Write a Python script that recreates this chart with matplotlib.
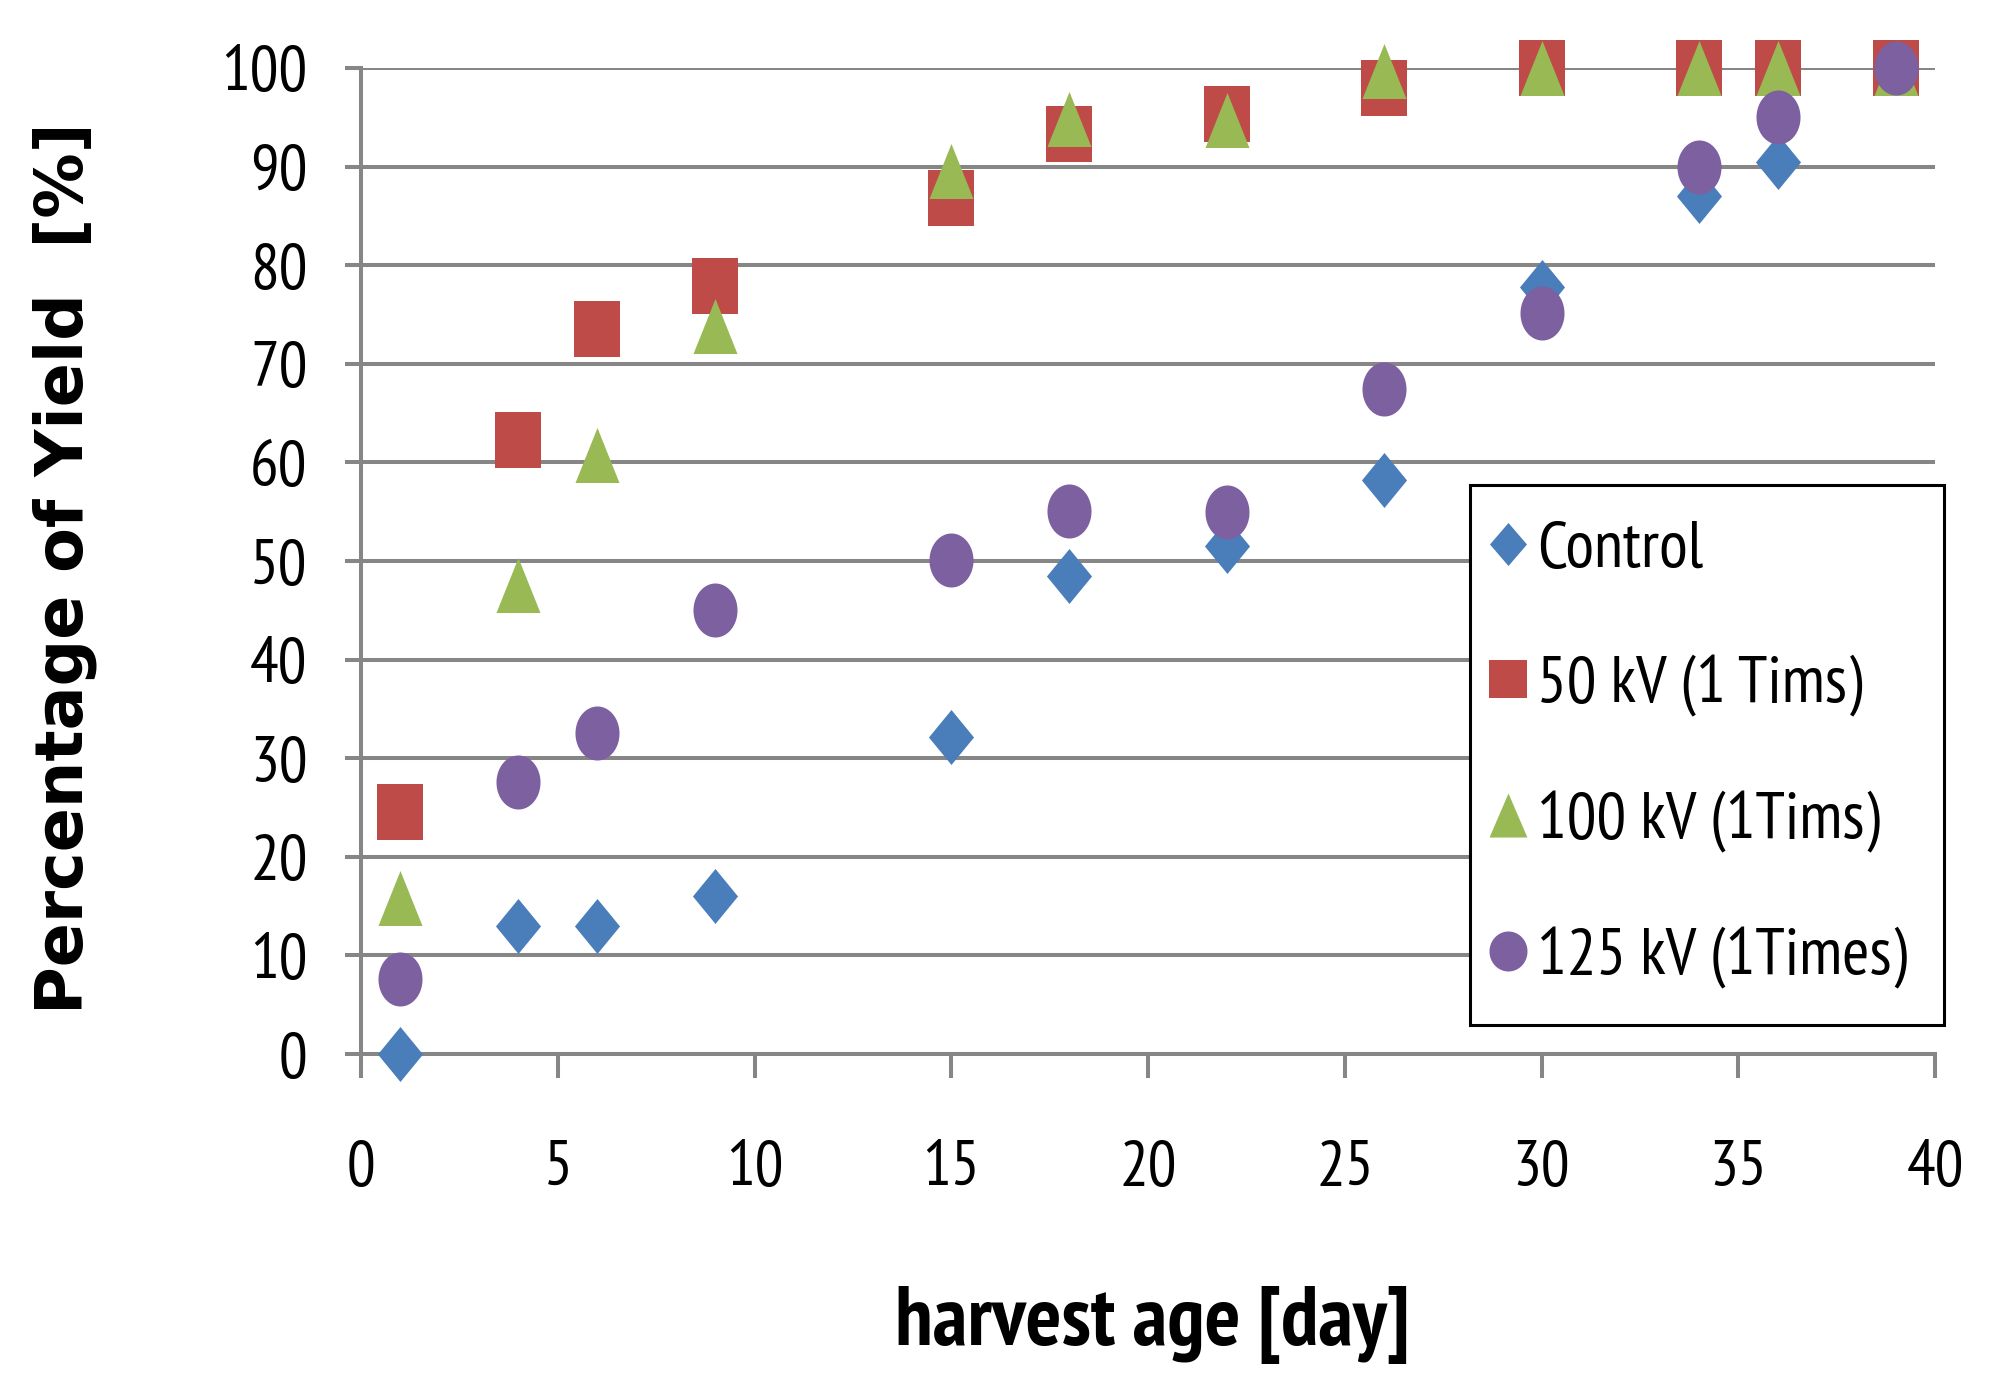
import numpy as np
import matplotlib
matplotlib.use('Agg')
import matplotlib.pyplot as plt
from matplotlib.path import Path
from matplotlib.lines import Line2D

# ---- data ----
days = [1, 4, 6, 9, 15, 18, 22, 26, 30, 34, 36, 39]
control = [0, 13, 13, 16, 32.2, 48.5, 51.5, 58.2, 77.8, 87, 90.5, 100]
kv50 = [24.5, 62.3, 73.5, 77.9, 86.8, 93.3, 95.3, 98, 100, 100, 100, 100]
kv100 = [15.8, 47.6, 60.7, 73.8, 89.6, 94.8, 94.7, 99.7, 100, 100, 100, 100]
kv125 = [7.6, 27.6, 32.6, 45, 50.1, 55.1, 55, 67.4, 75.2, 90, 95, 100]
labels = ["Control", "50 kV (1 Tims)", "100 kV (1Tims)", "125 kV (1Times)"]
xticks = [0, 5, 10, 15, 20, 25, 30, 35, 40]
yticks = [0, 10, 20, 30, 40, 50, 60, 70, 80, 90, 100]

colors = ['#4A7EBB', '#BE4B48', '#98B954', '#7D60A0']
GRAY = '#868686'

plt.rcParams['font.family'] = ['PT Sans Narrow', 'Carlito', 'DejaVu Sans']

def rect_path(rx):
    return Path([(-rx, -0.5), (rx, -0.5), (rx, 0.5), (-rx, 0.5), (-rx, -0.5)],
                [Path.MOVETO, Path.LINETO, Path.LINETO, Path.LINETO, Path.CLOSEPOLY])

def ellipse_path(rx):
    t = np.linspace(0, 2 * np.pi, 80)
    v = np.column_stack([rx * np.cos(t), 0.5 * np.sin(t)])
    return Path(v, closed=True)

def tri_path(rx):
    return Path([(-rx, -0.5), (rx, -0.5), (0, 0.5), (-rx, -0.5)],
                [Path.MOVETO, Path.LINETO, Path.LINETO, Path.CLOSEPOLY])

def diamond_path(rx):
    return Path([(0, -0.5), (rx, 0), (0, 0.5), (-rx, 0), (0, -0.5)],
                [Path.MOVETO, Path.LINETO, Path.LINETO, Path.LINETO, Path.CLOSEPOLY])

fig = plt.figure(figsize=(19.9, 13.84), dpi=100)
ax = fig.add_axes([0.1814, 0.2384, 0.7910, 0.7125])

ax.set_xlim(0, 40)
ax.set_ylim(0, 100)
ax.set_xticks(xticks)
ax.set_yticks(yticks)

ax.yaxis.grid(True, color=GRAY, lw=2.9)
ax.set_axisbelow(True)
for s in ['top', 'right']:
    ax.spines[s].set_visible(False)
for s in ['left', 'bottom']:
    ax.spines[s].set_color(GRAY)
    ax.spines[s].set_linewidth(2.9)

ax.tick_params(axis='y', direction='out', length=11.5, width=2.9, color=GRAY,
               pad=27, labelsize=46)
ax.tick_params(axis='x', direction='out', length=17, width=2.9, color=GRAY,
               pad=45, labelsize=46)

series = [control, kv50, kv100, kv125]
markers = [diamond_path(0.41), rect_path(0.4035), tri_path(0.4), ellipse_path(0.4075)]
sizes = [39.6, 41, 39.6, 38.9]
for i, (vals, m, ms) in enumerate(zip(series, markers, sizes)):
    ax.plot(days, vals, linestyle='none', marker=m, ms=ms, color=colors[i],
            mew=0, clip_on=False, zorder=3 + i)

leg_markers = [diamond_path(0.43), rect_path(0.5), tri_path(0.43), ellipse_path(0.475)]
leg_sizes = [31, 27, 31.7, 28.8]
handles = [Line2D([], [], linestyle='none', marker=m, ms=s, color=c, mew=0)
           for m, s, c in zip(leg_markers, leg_sizes, colors)]
leg = ax.legend(handles, labels, loc='upper left',
                bbox_to_anchor=(1470 / 1990, 1 - 485 / 1384),
                bbox_transform=fig.transFigure, borderaxespad=0,
                fontsize=47.5, frameon=True, fancybox=False, edgecolor='black',
                borderpad=0.55, handlelength=0.05, handletextpad=0.42,
                labelspacing=1.12)
leg.get_frame().set_linewidth(2.2)
leg.get_frame().set_alpha(1)

fig.text(65 / 1990, 1 - 568 / 1384, "Percentage of Yield  [%]", rotation=90,
         ha='center', va='center', fontsize=47, fontweight='bold',
         family=['DejaVu Sans'])
fig.text(1152 / 1990, 1 - 1345 / 1384, "harvest age [day]", ha='center',
         va='baseline', fontsize=60.5, fontweight='bold')

fig.savefig('out.png', dpi=100)
